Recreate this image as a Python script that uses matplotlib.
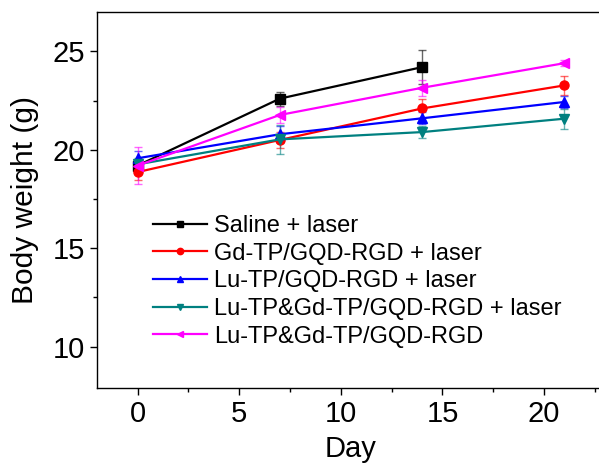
import matplotlib
matplotlib.use("Agg")
import matplotlib.pyplot as plt
from matplotlib.ticker import MultipleLocator

plt.rcParams['font.family'] = ['Liberation Sans', 'DejaVu Sans']

days = [0, 7, 14, 21]
labels = ["Saline + laser", "Gd-TP/GQD-RGD + laser", "Lu-TP/GQD-RGD + laser",
          "Lu-TP&Gd-TP/GQD-RGD + laser", "Lu-TP&Gd-TP/GQD-RGD"]
saline = [19.2, 22.6, 24.2]
saline_err = [0.3, 0.35, 0.85]
gd = [18.87, 20.5, 22.1, 23.27]
gd_err = [0.4, 0.4, 0.5, 0.5]
lu = [19.57, 20.79, 21.6, 22.43]
lu_err = [0.35, 0.4, 0.3, 0.3]
lugd = [19.26, 20.53, 20.9, 21.58]
lugd_err = [0.3, 0.75, 0.3, 0.5]
lugd_nl = [19.2, 21.77, 23.15, 24.4]
lugd_nl_err = [0.95, 0.4, 0.4, 0.15]

series = [
    (days[:3], saline, saline_err, 'black', 's'),
    (days, gd, gd_err, '#ff0000', 'o'),
    (days, lu, lu_err, '#0000ff', '^'),
    (days, lugd, lugd_err, '#008080', 'v'),
    (days, lugd_nl, lugd_nl_err, '#ff00ff', '<'),
]

fig = plt.figure(figsize=(5.99, 4.65), dpi=100)
ax = fig.add_axes([97/599, 1-388/465, 508/599, (388-12)/465])

handles = []
for (x, y, e, c, m), lab in zip(series, labels):
    ax.errorbar(x, y, yerr=e, color=c, ecolor=c, elinewidth=1.0, capsize=3,
                capthick=1.0, fmt='none', alpha=0.6, zorder=2)
    h, = ax.plot(x, y, color=c, marker=m, markersize=6.5, linewidth=1.6,
                 label=lab, zorder=3)
    handles.append(h)

ax.set_xlim(-2, 23)
ax.set_ylim(7.9, 27.0)
ax.xaxis.set_major_locator(MultipleLocator(5))
ax.xaxis.set_minor_locator(MultipleLocator(2.5))
ax.yaxis.set_major_locator(MultipleLocator(5))
ax.yaxis.set_minor_locator(MultipleLocator(2.5))
ax.tick_params(which='major', direction='out', length=5, width=1, labelsize=21,
               top=False, right=False)
ax.tick_params(axis='x', which='major', pad=4)
ax.tick_params(which='minor', direction='out', length=3, width=1,
               top=False, right=False)
for s in ax.spines.values():
    s.set_linewidth(1.0)

ax.set_xlabel("Day", fontsize=21, labelpad=5)
ax.set_ylabel("Body weight (g)", fontsize=21.5, labelpad=10)

leg = ax.legend(handles=handles, loc='upper left', frameon=False,
                bbox_to_anchor=(153/599, 1-215/465), bbox_transform=fig.transFigure,
                fontsize=17, handlelength=2.3, handletextpad=0.3,
                labelspacing=0.24, borderpad=0, borderaxespad=0,
                numpoints=1, markerscale=0.7)

fig.savefig("out.png", dpi=100)
